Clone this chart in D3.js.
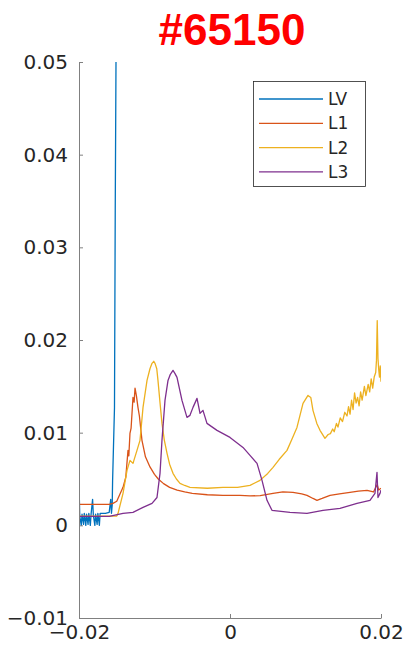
<!DOCTYPE html>
<html>
<head>
<meta charset="utf-8">
<script src="https://d3js.org/d3.v7.min.js"></script>
<style>
  body { margin: 0; background: #fff; }
  .axis text { font-family: "DejaVu Sans", sans-serif; font-size: 20px; fill: #262626; }
  .axis path, .axis line { stroke: #808080; }
</style>
</head>
<body>
<div id="chart-area"></div>
<script>

var width = 407,
    height = 648;

// series
var seriesNames = ["LV", "L1", "L2", "L3"];
var seriesColors = ["#0072BD", "#D95319", "#EDB120", "#7E2F8E"];

var lvX = [-0.0200, -0.01995, -0.0199, -0.0197, -0.0196, -0.0194, -0.0193, -0.0191, -0.0190, -0.0188,
  -0.0187, -0.0185, -0.0184, -0.0182, -0.0181, -0.0179, -0.0178, -0.0176, -0.0175, -0.0173,
  -0.0172, -0.0170, -0.0165, -0.0160, -0.0158, -0.0157, -0.0156, -0.01555, -0.0153, -0.0152, -0.0151, -0.0150];
var lvY = [0.0009, 0.0028, 0.0010, 0.0000, 0.0012, 0.0001, 0.0013, 0.0000, 0.0012, 0.0001,
  0.0013, 0.0000, 0.0012, 0.0028, 0.0011, 0.0000, 0.0012, 0.0001, 0.0013, 0.0000,
  0.0013, 0.0013, 0.0013, 0.0014, 0.0028, 0.0013, 0.0022, 0.0048, 0.0127, 0.0340, 0.0500, 0.0700];

var l1X = [-0.0200, -0.0180, -0.0160, -0.0155, -0.0150, -0.01417, -0.0138, -0.01351, -0.0134, -0.01325,
  -0.0131, -0.01285, -0.0127, -0.01258, -0.0124, -0.01219, -0.0120, -0.01166, -0.0112, -0.0106,
  -0.0100, -0.0095, -0.0088, -0.0080, -0.0070, -0.0060, -0.0050, -0.0030, -0.00093, 0.00132,
  0.00265, 0.0040, 0.0057, 0.0070, 0.00834, 0.0095, 0.0102, 0.0110, 0.01152, 0.0122,
  0.01325, 0.0145, 0.01589, 0.0170, 0.01815, 0.0190, 0.0195, 0.0197, 0.0200];
var l1Y = [0.00227, 0.00227, 0.00227, 0.00237, 0.0026, 0.0041, 0.0052, 0.00809, 0.0075, 0.00992,
  0.0105, 0.0138, 0.0133, 0.0148, 0.0140, 0.01273, 0.0118, 0.00917, 0.0074, 0.0063,
  0.0055, 0.0050, 0.0045, 0.0041, 0.0038, 0.0036, 0.00345, 0.0033, 0.00324, 0.00324,
  0.00318, 0.0032, 0.00345, 0.0036, 0.00356, 0.0034, 0.00324, 0.0029, 0.0027, 0.0029,
  0.00324, 0.0034, 0.00356, 0.0037, 0.00378, 0.0036, 0.0044, 0.0038, 0.0040];

var l2X = [-0.0200, -0.0160, -0.0150, -0.01483, -0.01417, -0.01364, -0.01325, -0.01285, -0.01232, -0.01192,
  -0.01152, -0.01099, -0.0106, -0.01033, -0.0101, -0.00993, -0.0097, -0.00954, -0.0093, -0.00901,
  -0.0087, -0.00834, -0.0080, -0.00755, -0.0071, -0.00662, -0.0060, -0.0053, -0.0030, -0.00093,
  0.0010, 0.00265, 0.00397, 0.0050, 0.0057, 0.0065, 0.00755, 0.0082, 0.00887, 0.00967,
  0.01033, 0.0107, 0.01099, 0.0115, 0.01192, 0.01258, 0.0130, 0.0133, 0.0136, 0.0138,
  0.0141, 0.0143, 0.0146, 0.0149, 0.0152, 0.0155, 0.0157, 0.0159, 0.0161, 0.0163,
  0.0165, 0.0167, 0.0169, 0.0171, 0.0173, 0.0175, 0.0178, 0.0180, 0.0183, 0.0185,
  0.0187, 0.0189, 0.0191, 0.0193, 0.0194, 0.0195, 0.0196, 0.0197, 0.0198, 0.0199, 0.0200];
var l2Y = [0.0010, 0.0010, 0.0010, 0.00129, 0.00345, 0.00593, 0.00701, 0.00669, 0.00809, 0.00917,
  0.01273, 0.01564, 0.0169, 0.01748, 0.0177, 0.01748, 0.0169, 0.01564, 0.0135, 0.0110,
  0.0092, 0.00777, 0.0066, 0.00561, 0.0050, 0.00453, 0.0043, 0.0041, 0.0040, 0.0041,
  0.0041, 0.00431, 0.00485, 0.0056, 0.00626, 0.0071, 0.00809, 0.0093, 0.01057, 0.01316,
  0.01402, 0.0138, 0.01241, 0.0110, 0.01025, 0.00939, 0.0098, 0.0099, 0.0104, 0.0101,
  0.0110, 0.0106, 0.0116, 0.0112, 0.0122, 0.0118, 0.0128, 0.0120, 0.0135, 0.0125,
  0.0143, 0.0132, 0.0138, 0.0129, 0.0144, 0.0135, 0.0150, 0.0140, 0.0152, 0.0144,
  0.0158, 0.0148, 0.0160, 0.0165, 0.0178, 0.0221, 0.0180, 0.0168, 0.0160, 0.0172, 0.0155];

var l3X = [-0.0200, -0.0160, -0.01417, -0.01285, -0.01152, -0.01033, -0.00967, -0.00927, -0.00901, -0.00861,
  -0.00821, -0.0079, -0.00755, -0.0073, -0.00702, -0.00636, -0.0057, -0.0053, -0.0049, -0.00437,
  -0.00397, -0.00358, -0.00305, -0.00172, 0.0000, 0.00172, 0.00265, 0.00358, 0.00424, 0.0049,
  0.00556, 0.00795, 0.0102, 0.01232, 0.01457, 0.01682, 0.01854, 0.0192, 0.01947, 0.0196,
  0.01987, 0.0200];
var l3Y = [0.00097, 0.00097, 0.00129, 0.0014, 0.00194, 0.00237, 0.0030, 0.00561, 0.00917, 0.01348,
  0.01564, 0.0163, 0.01672, 0.0164, 0.01597, 0.01348, 0.01165, 0.01187, 0.01273, 0.0137,
  0.01208, 0.01241, 0.0110, 0.01025, 0.00949, 0.00841, 0.00755, 0.00669, 0.00485, 0.0027,
  0.00162, 0.0014, 0.00129, 0.00162, 0.00183, 0.00237, 0.0027, 0.00345, 0.00572, 0.0030,
  0.00345, 0.0038];

var xTicks = [-0.02, 0, 0.02];
var yTicks = [-0.01, 0, 0.01, 0.02, 0.03, 0.04, 0.05];

var seriesX = [lvX, l1X, l2X, l3X];
var seriesY = [lvY, l1Y, l2Y, l3Y];

var svg = d3.select("#chart-area").append("svg")
    .attr("width", width)
    .attr("height", height);

var x = d3.scaleLinear().domain([-0.02, 0.02]).range([79, 381]);
var y = d3.scaleLinear().domain([-0.01, 0.05]).range([618, 62]);

// title
svg.append("text")
    .attr("x", 232)
    .attr("y", 45)
    .attr("text-anchor", "middle")
    .style("font-family", "'Liberation Sans', Arial, sans-serif")
    .style("font-weight", "bold")
    .style("font-size", "44px")
    .style("fill", "#ff0000")
    .text("#65150");

svg.append("clipPath").attr("id", "plot-clip")
  .append("rect")
    .attr("x", x(-0.02))
    .attr("y", y(0.05))
    .attr("width", x(0.02) - x(-0.02))
    .attr("height", y(-0.01) - y(0.05));

// lines, in drawing order
var line = d3.line()
    .x(d => x(d[0]))
    .y(d => y(d[1]));

var lines = svg.append("g").attr("clip-path", "url(#plot-clip)");

seriesNames.forEach(function(name, i) {
  var pts = seriesX[i].map(function(v, j) { return [v, seriesY[i][j]]; });
  lines.append("path")
      .datum(pts)
      .attr("d", line)
      .attr("fill", "none")
      .attr("stroke", seriesColors[i])
      .attr("stroke-width", 1.3)
      .attr("stroke-linejoin", "round");
});

// axes, ticks pointing inward
svg.append("g")
    .attr("class", "axis")
    .attr("transform", "translate(" + x(-0.02) + ",0)")
    .call(d3.axisLeft(y).tickValues(yTicks).tickFormat(d3.format("")).tickSizeInner(-4).tickSizeOuter(0).tickPadding(11));

svg.append("g")
    .attr("class", "axis")
    .attr("transform", "translate(0," + y(-0.01) + ")")
    .call(d3.axisBottom(x).tickValues(xTicks).tickFormat(d3.format("")).tickSizeInner(-4).tickSizeOuter(0).tickPadding(7));

svg.selectAll(".axis .domain").attr("stroke", "#808080");

// legend
var legend = svg.append("g");

legend.append("rect")
    .attr("x", 253.5)
    .attr("y", 81.5)
    .attr("width", 112)
    .attr("height", 105)
    .attr("fill", "#fff")
    .attr("stroke", "#262626")
    .attr("stroke-width", 0.8);

seriesNames.forEach(function(name, i) {
  var ly = 99 + i * 24.3;
  legend.append("line")
      .attr("x1", 259).attr("x2", 323)
      .attr("y1", ly).attr("y2", ly)
      .attr("stroke", seriesColors[i])
      .attr("stroke-width", 1.3);
  legend.append("text")
      .attr("x", 328)
      .attr("y", ly)
      .attr("dy", "0.36em")
      .style("font-family", "'DejaVu Sans', sans-serif")
      .style("font-size", "17px")
      .style("fill", "#262626")
      .text(name);
});

</script>
</body>
</html>
